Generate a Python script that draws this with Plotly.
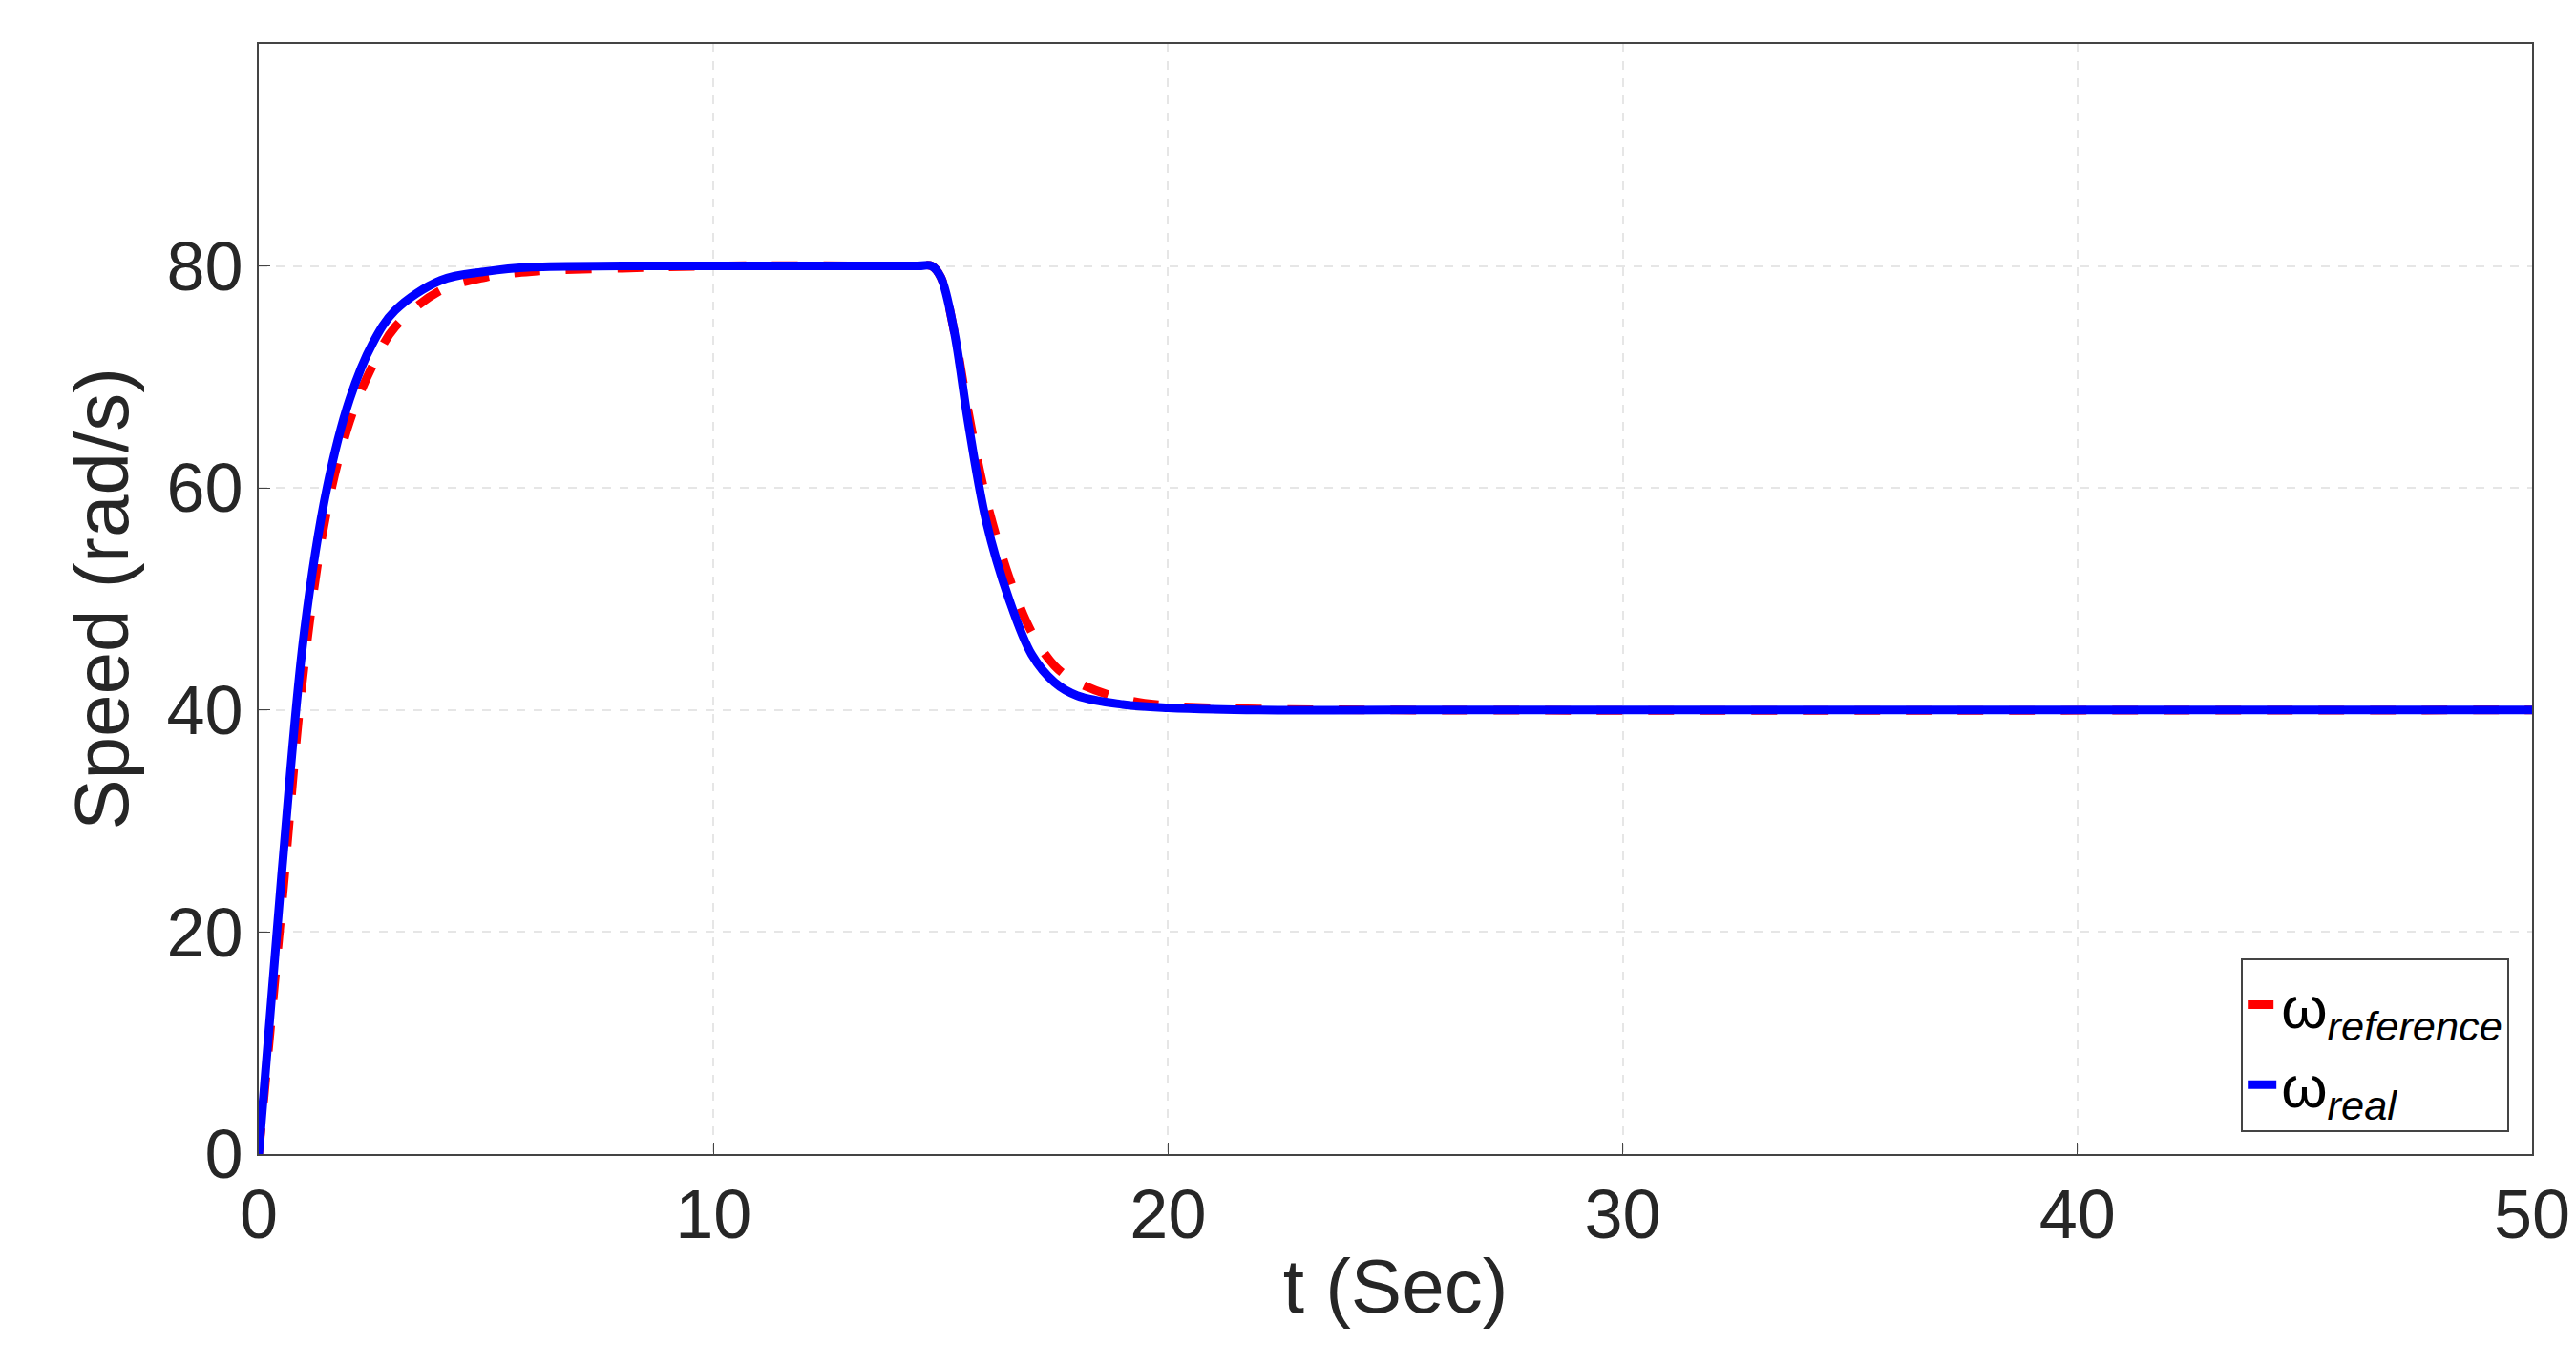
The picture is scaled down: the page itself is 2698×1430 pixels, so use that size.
import plotly.graph_objects as go

t = [0, 0.5, 1, 1.5, 2, 2.5, 3, 4, 5, 6, 8, 10, 14.5, 14.8, 15, 15.3, 15.6, 16, 16.5, 17, 17.5, 18, 19, 20, 22, 25, 50]
w_real = [0, 25, 47, 60, 68, 73, 76, 78.7, 79.5, 79.9, 80, 80, 80, 80, 79, 74, 66, 57, 50, 45, 42.5, 41.3, 40.5, 40.2, 40, 40, 40]
w_ref = [0, 22, 44, 58, 66, 71, 74.5, 77.8, 79, 79.5, 79.8, 80, 80, 80, 79, 74, 67, 59, 52, 47, 44, 42.5, 41, 40.4, 40.1, 40, 40]

fig = go.Figure()
fig.add_trace(go.Scatter(x=t, y=w_ref, mode="lines", line=dict(color="red", width=9, dash="dash", shape="spline"),
                         name="ω<sub><i>reference</i></sub>"))
fig.add_trace(go.Scatter(x=t, y=w_real, mode="lines", line=dict(color="blue", width=9, shape="spline"),
                         name="ω<sub><i>real</i></sub>"))
ax = dict(showline=True, linecolor="#444", linewidth=2, mirror=True, ticks="inside", ticklen=12,
          tickcolor="#444", showgrid=True, gridcolor="#e6e6e6", griddash="dash", gridwidth=2, zeroline=False,
          tickfont=dict(size=72, color="#262626"))
fig.update_layout(
    width=2698, height=1430, plot_bgcolor="white", paper_bgcolor="white",
    font=dict(family="Liberation Sans, Arial", color="#262626"),
    margin=dict(l=263, r=54, t=38, b=229),
    xaxis=dict(range=[0, 50], dtick=10, title=dict(text="t (Sec)", font=dict(size=80), standoff=8), **ax),
    yaxis=dict(range=[0, 100], dtick=20, title=dict(text="Speed (rad/s)", font=dict(size=80), standoff=14), **ax),
    legend=dict(x=0.99, y=0.02, xanchor="right", yanchor="bottom", bgcolor="white", bordercolor="#444",
                borderwidth=2, font=dict(size=62, color="black")),
)
fig.write_html("out.html")
